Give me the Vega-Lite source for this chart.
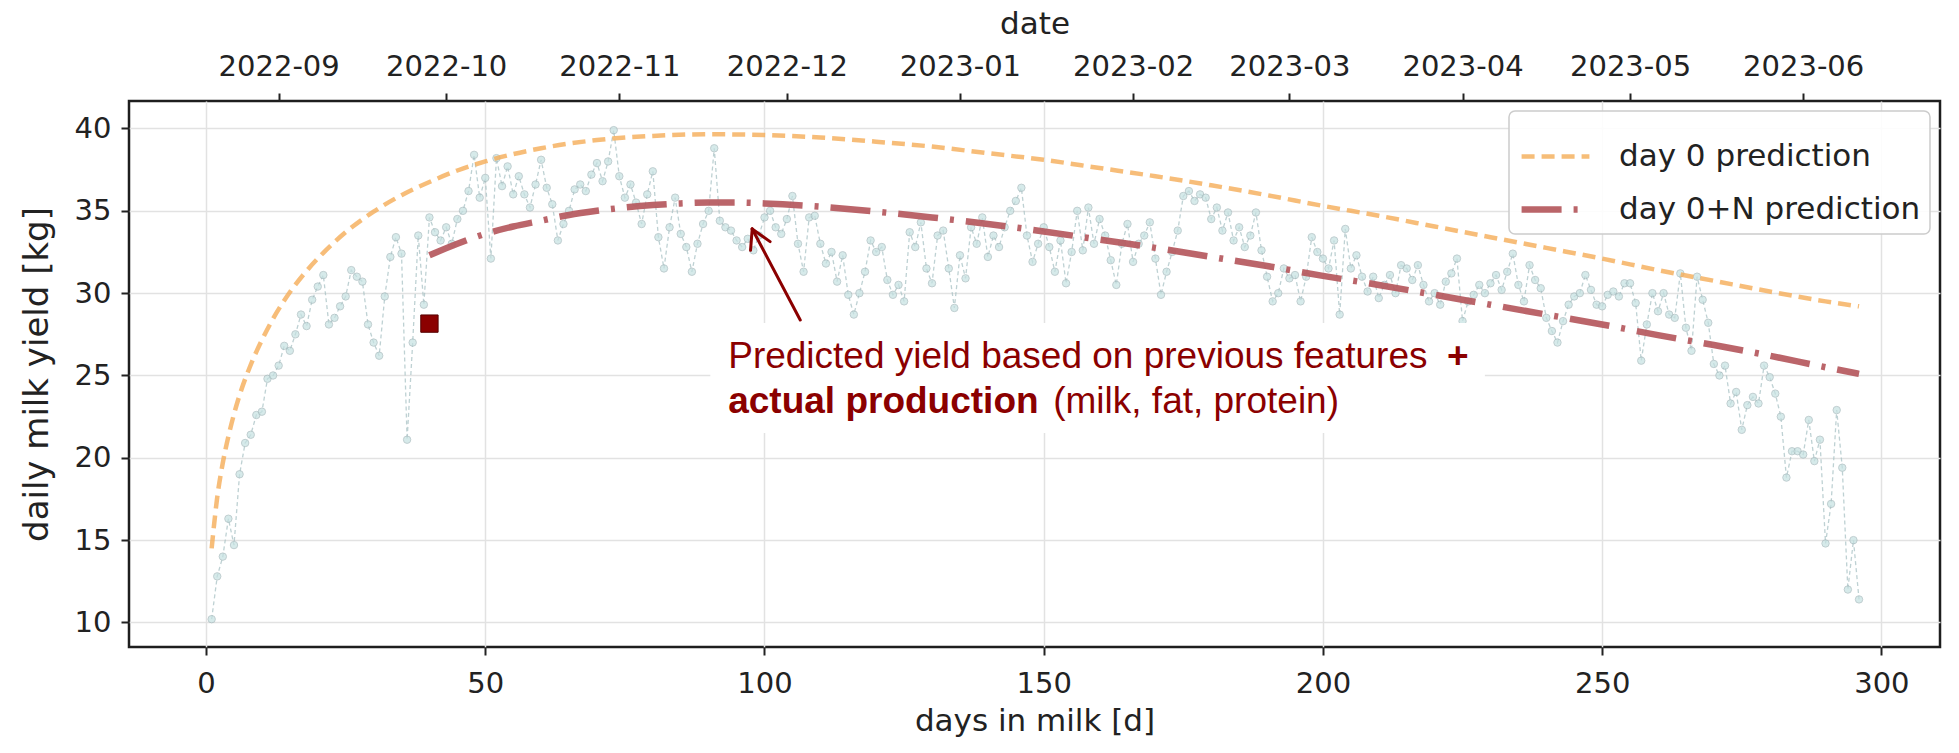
{
  "$schema": "https://vega.github.io/schema/vega-lite/v6.json",
  "width": 1811,
  "height": 546,
  "autosize": {"type": "none"},
  "padding": {"left": 129, "top": 101, "right": 19, "bottom": 106},
  "background": "white",
  "config": {
    "view": {"stroke": "#1e1e1e", "strokeWidth": 2.5},
    "axis": {
      "labelFont": "DejaVu Sans", "labelFontSize": 29, "labelColor": "#222222",
      "titleFont": "DejaVu Sans", "titleFontSize": 31, "titleFontWeight": "normal", "titleColor": "#222222",
      "tickColor": "#222222", "tickWidth": 2, "tickSize": 8, "domain": false,
      "gridColor": "#e2e2e2", "gridWidth": 1.5
    },
    "legend": {
      "orient": "top-right", "offset": 10, "fillColor": "rgba(255,255,255,0.88)", "strokeColor": "#cccccc",
      "strokeWidth": 1.5, "cornerRadius": 6, "padding": 9,
      "labelFont": "DejaVu Sans", "labelFontSize": 31, "labelColor": "#222222", "labelLimit": 500,
      "symbolType": "stroke", "symbolSize": 4600, "labelOffset": 26, "rowPadding": 0
    }
  },
  "layer": [
    {
      "encoding": {
        "x": {"field": "day", "type": "quantitative",
          "scale": {"domain": [-13.8, 310.5], "nice": false, "zero": false},
          "axis": {"orient": "bottom", "title": "days in milk [d]", "values": [0, 50, 100, 150, 200, 250, 300], "grid": true, "labelPadding": 14, "titlePadding": 8, "labelFlush": false}},
        "y": {"field": "v", "type": "quantitative",
          "scale": {"domain": [8.51, 41.67], "nice": false, "zero": false},
          "axis": {"title": "daily milk yield [kg]", "titleFontSize": 34, "values": [10, 15, 20, 25, 30, 35, 40], "grid": true, "labelPadding": 10, "titlePadding": 20}}
      },
      "layer": [
        {
          "data": {"name": "obs", "values": [
            {"day":1,"v":10.2},{"day":2,"v":12.8},{"day":3,"v":14.0},{"day":4,"v":16.3},{"day":5,"v":14.7},{"day":6,"v":19.0},{"day":7,"v":20.9},{"day":8,"v":21.4},{"day":9,"v":22.6},{"day":10,"v":22.8},
            {"day":11,"v":24.8},{"day":12,"v":25.0},{"day":13,"v":25.6},{"day":14,"v":26.8},{"day":15,"v":26.5},{"day":16,"v":27.5},{"day":17,"v":28.7},{"day":18,"v":28.0},{"day":19,"v":29.6},{"day":20,"v":30.4},
            {"day":21,"v":31.1},{"day":22,"v":28.1},{"day":23,"v":28.5},{"day":24,"v":29.2},{"day":25,"v":29.8},{"day":26,"v":31.4},{"day":27,"v":31.0},{"day":28,"v":30.7},{"day":29,"v":28.1},{"day":30,"v":27.0},
            {"day":31,"v":26.2},{"day":32,"v":29.8},{"day":33,"v":32.2},{"day":34,"v":33.4},{"day":35,"v":32.4},{"day":36,"v":21.1},{"day":37,"v":27.0},{"day":38,"v":33.5},{"day":39,"v":29.3},{"day":40,"v":34.6},
            {"day":41,"v":33.7},{"day":42,"v":33.2},{"day":43,"v":34.0},{"day":44,"v":33.0},{"day":45,"v":34.5},{"day":46,"v":35.0},{"day":47,"v":36.2},{"day":48,"v":38.4},{"day":49,"v":35.8},{"day":50,"v":37.0},
            {"day":51,"v":32.1},{"day":52,"v":38.2},{"day":53,"v":36.5},{"day":54,"v":37.7},{"day":55,"v":36.0},{"day":56,"v":37.1},{"day":57,"v":36.0},{"day":58,"v":35.2},{"day":59,"v":36.6},{"day":60,"v":38.1},
            {"day":61,"v":36.4},{"day":62,"v":35.4},{"day":63,"v":33.2},{"day":64,"v":34.2},{"day":65,"v":35.0},{"day":66,"v":36.3},{"day":67,"v":36.6},{"day":68,"v":36.2},{"day":69,"v":37.2},{"day":70,"v":37.9},
            {"day":71,"v":36.8},{"day":72,"v":38.0},{"day":73,"v":39.9},{"day":74,"v":37.1},{"day":75,"v":35.8},{"day":76,"v":36.6},{"day":77,"v":35.5},{"day":78,"v":34.2},{"day":79,"v":36.0},{"day":80,"v":37.4},
            {"day":81,"v":33.4},{"day":82,"v":31.5},{"day":83,"v":34.0},{"day":84,"v":35.8},{"day":85,"v":33.6},{"day":86,"v":32.8},{"day":87,"v":31.3},{"day":88,"v":33.0},{"day":89,"v":34.2},{"day":90,"v":35.0},
            {"day":91,"v":38.8},{"day":92,"v":34.4},{"day":93,"v":34.0},{"day":94,"v":33.8},{"day":95,"v":33.2},{"day":96,"v":32.8},{"day":97,"v":33.3},{"day":98,"v":32.6},{"day":99,"v":33.5},{"day":100,"v":34.6},
            {"day":101,"v":35.0},{"day":102,"v":34.0},{"day":103,"v":33.6},{"day":104,"v":34.5},{"day":105,"v":35.9},{"day":106,"v":33.0},{"day":107,"v":31.3},{"day":108,"v":34.6},{"day":109,"v":34.7},{"day":110,"v":33.0},
            {"day":111,"v":31.8},{"day":112,"v":32.5},{"day":113,"v":30.7},{"day":114,"v":32.3},{"day":115,"v":29.9},{"day":116,"v":28.7},{"day":117,"v":30.0},{"day":118,"v":31.3},{"day":119,"v":33.2},{"day":120,"v":32.5},
            {"day":121,"v":32.8},{"day":122,"v":30.8},{"day":123,"v":29.9},{"day":124,"v":30.5},{"day":125,"v":29.5},{"day":126,"v":33.7},{"day":127,"v":32.8},{"day":128,"v":34.3},{"day":129,"v":31.5},{"day":130,"v":30.6},
            {"day":131,"v":33.5},{"day":132,"v":33.8},{"day":133,"v":31.5},{"day":134,"v":29.1},{"day":135,"v":32.3},{"day":136,"v":30.9},{"day":137,"v":34.0},{"day":138,"v":33.0},{"day":139,"v":34.6},{"day":140,"v":32.2},
            {"day":141,"v":33.5},{"day":142,"v":32.8},{"day":143,"v":34.0},{"day":144,"v":35.0},{"day":145,"v":35.6},{"day":146,"v":36.4},{"day":147,"v":33.5},{"day":148,"v":31.9},{"day":149,"v":33.0},{"day":150,"v":34.0},
            {"day":151,"v":32.8},{"day":152,"v":31.3},{"day":153,"v":33.2},{"day":154,"v":30.6},{"day":155,"v":32.5},{"day":156,"v":35.0},{"day":157,"v":32.6},{"day":158,"v":35.2},{"day":159,"v":33.0},{"day":160,"v":34.5},
            {"day":161,"v":33.5},{"day":162,"v":32.0},{"day":163,"v":30.5},{"day":164,"v":33.0},{"day":165,"v":34.2},{"day":166,"v":31.9},{"day":167,"v":33.0},{"day":168,"v":33.5},{"day":169,"v":34.3},{"day":170,"v":32.1},
            {"day":171,"v":29.9},{"day":172,"v":31.3},{"day":173,"v":32.5},{"day":174,"v":33.8},{"day":175,"v":35.9},{"day":176,"v":36.2},{"day":177,"v":35.6},{"day":178,"v":36.0},{"day":179,"v":35.8},{"day":180,"v":34.5},
            {"day":181,"v":35.2},{"day":182,"v":33.8},{"day":183,"v":34.9},{"day":184,"v":33.2},{"day":185,"v":34.0},{"day":186,"v":32.8},{"day":187,"v":33.5},{"day":188,"v":34.9},{"day":189,"v":32.6},{"day":190,"v":31.0},
            {"day":191,"v":29.5},{"day":192,"v":30.0},{"day":193,"v":31.5},{"day":194,"v":30.9},{"day":195,"v":31.1},{"day":196,"v":29.5},{"day":197,"v":31.0},{"day":198,"v":33.4},{"day":199,"v":32.5},{"day":200,"v":32.1},
            {"day":201,"v":31.5},{"day":202,"v":33.2},{"day":203,"v":28.7},{"day":204,"v":33.9},{"day":205,"v":31.5},{"day":206,"v":32.3},{"day":207,"v":31.0},{"day":208,"v":30.1},{"day":209,"v":31.0},{"day":210,"v":29.7},
            {"day":211,"v":30.5},{"day":212,"v":31.1},{"day":213,"v":30.0},{"day":214,"v":31.7},{"day":215,"v":31.5},{"day":216,"v":30.8},{"day":217,"v":31.7},{"day":218,"v":30.5},{"day":219,"v":29.5},{"day":220,"v":30.0},
            {"day":221,"v":29.3},{"day":222,"v":30.7},{"day":223,"v":31.2},{"day":224,"v":32.1},{"day":225,"v":28.3},{"day":226,"v":29.5},{"day":227,"v":29.9},{"day":228,"v":30.5},{"day":229,"v":30.0},{"day":230,"v":30.6},
            {"day":231,"v":31.1},{"day":232,"v":30.2},{"day":233,"v":31.3},{"day":234,"v":32.4},{"day":235,"v":30.5},{"day":236,"v":29.5},{"day":237,"v":31.7},{"day":238,"v":30.8},{"day":239,"v":30.3},{"day":240,"v":28.5},
            {"day":241,"v":27.7},{"day":242,"v":27.0},{"day":243,"v":28.3},{"day":244,"v":29.3},{"day":245,"v":29.8},{"day":246,"v":30.0},{"day":247,"v":31.1},{"day":248,"v":30.2},{"day":249,"v":29.3},{"day":250,"v":29.2},
            {"day":251,"v":29.9},{"day":252,"v":30.1},{"day":253,"v":29.8},{"day":254,"v":30.6},{"day":255,"v":30.6},{"day":256,"v":29.4},{"day":257,"v":25.9},{"day":258,"v":28.1},{"day":259,"v":30.0},{"day":260,"v":28.9},
            {"day":261,"v":30.0},{"day":262,"v":28.7},{"day":263,"v":28.5},{"day":264,"v":31.2},{"day":265,"v":27.9},{"day":266,"v":26.5},{"day":267,"v":31.0},{"day":268,"v":29.6},{"day":269,"v":28.2},{"day":270,"v":25.7},
            {"day":271,"v":25.0},{"day":272,"v":25.6},{"day":273,"v":23.3},{"day":274,"v":24.0},{"day":275,"v":21.7},{"day":276,"v":23.2},{"day":277,"v":23.7},{"day":278,"v":23.3},{"day":279,"v":25.6},{"day":280,"v":24.9},
            {"day":281,"v":23.9},{"day":282,"v":22.5},{"day":283,"v":18.8},{"day":284,"v":20.4},{"day":285,"v":20.4},{"day":286,"v":20.2},{"day":287,"v":22.3},{"day":288,"v":19.8},{"day":289,"v":21.1},{"day":290,"v":14.8},
            {"day":291,"v":17.2},{"day":292,"v":22.9},{"day":293,"v":19.4},{"day":294,"v":12.0},{"day":295,"v":15.0},{"day":296,"v":11.4}
          ]},
          "layer": [
            {"mark": {"type": "line", "strokeDash": [4, 3], "strokeWidth": 1.3, "color": "#a8c2c4", "opacity": 0.75}},
            {"mark": {"type": "point", "shape": "circle", "filled": true, "size": 55, "fill": "#c6e2e2", "stroke": "#a6babd", "strokeWidth": 1, "opacity": 0.7}}
          ]
        },
        {
          "data": {"values": [
            {"day":1,"v":14.5,"s":"day 0 prediction"},{"day":2,"v":17.6,"s":"day 0 prediction"},{"day":3,"v":19.7,"s":"day 0 prediction"},{"day":4,"v":21.3,"s":"day 0 prediction"},{"day":5,"v":22.65,"s":"day 0 prediction"},
            {"day":6,"v":23.8,"s":"day 0 prediction"},{"day":8,"v":25.65,"s":"day 0 prediction"},{"day":10,"v":27.15,"s":"day 0 prediction"},{"day":12,"v":28.45,"s":"day 0 prediction"},{"day":15,"v":30.05,"s":"day 0 prediction"},
            {"day":18,"v":31.35,"s":"day 0 prediction"},{"day":21,"v":32.45,"s":"day 0 prediction"},{"day":25,"v":33.7,"s":"day 0 prediction"},{"day":30,"v":34.95,"s":"day 0 prediction"},{"day":35,"v":35.95,"s":"day 0 prediction"},
            {"day":40,"v":36.75,"s":"day 0 prediction"},{"day":45,"v":37.45,"s":"day 0 prediction"},{"day":50,"v":38.0,"s":"day 0 prediction"},{"day":60,"v":38.8,"s":"day 0 prediction"},{"day":70,"v":39.3,"s":"day 0 prediction"},
            {"day":80,"v":39.55,"s":"day 0 prediction"},{"day":90,"v":39.65,"s":"day 0 prediction"},{"day":100,"v":39.6,"s":"day 0 prediction"},{"day":110,"v":39.45,"s":"day 0 prediction"},{"day":120,"v":39.2,"s":"day 0 prediction"},
            {"day":130,"v":38.9,"s":"day 0 prediction"},{"day":140,"v":38.5,"s":"day 0 prediction"},{"day":150,"v":38.1,"s":"day 0 prediction"},{"day":160,"v":37.6,"s":"day 0 prediction"},{"day":170,"v":37.1,"s":"day 0 prediction"},
            {"day":180,"v":36.55,"s":"day 0 prediction"},{"day":190,"v":35.95,"s":"day 0 prediction"},{"day":200,"v":35.3,"s":"day 0 prediction"},{"day":210,"v":34.7,"s":"day 0 prediction"},{"day":220,"v":34.05,"s":"day 0 prediction"},
            {"day":230,"v":33.4,"s":"day 0 prediction"},{"day":240,"v":32.75,"s":"day 0 prediction"},{"day":250,"v":32.1,"s":"day 0 prediction"},{"day":260,"v":31.4,"s":"day 0 prediction"},{"day":270,"v":30.75,"s":"day 0 prediction"},
            {"day":280,"v":30.1,"s":"day 0 prediction"},{"day":290,"v":29.5,"s":"day 0 prediction"},{"day":296,"v":29.2,"s":"day 0 prediction"},
            {"day":40,"v":32.3,"s":"day 0+N prediction"},{"day":45,"v":33.0,"s":"day 0+N prediction"},{"day":50,"v":33.6,"s":"day 0+N prediction"},{"day":55,"v":34.05,"s":"day 0+N prediction"},{"day":60,"v":34.4,"s":"day 0+N prediction"},
            {"day":65,"v":34.75,"s":"day 0+N prediction"},{"day":70,"v":35.0,"s":"day 0+N prediction"},{"day":75,"v":35.2,"s":"day 0+N prediction"},{"day":80,"v":35.35,"s":"day 0+N prediction"},{"day":85,"v":35.45,"s":"day 0+N prediction"},
            {"day":90,"v":35.5,"s":"day 0+N prediction"},{"day":95,"v":35.5,"s":"day 0+N prediction"},{"day":100,"v":35.45,"s":"day 0+N prediction"},{"day":110,"v":35.25,"s":"day 0+N prediction"},{"day":120,"v":34.95,"s":"day 0+N prediction"},
            {"day":130,"v":34.6,"s":"day 0+N prediction"},{"day":140,"v":34.2,"s":"day 0+N prediction"},{"day":150,"v":33.75,"s":"day 0+N prediction"},{"day":160,"v":33.25,"s":"day 0+N prediction"},{"day":170,"v":32.75,"s":"day 0+N prediction"},
            {"day":180,"v":32.2,"s":"day 0+N prediction"},{"day":190,"v":31.65,"s":"day 0+N prediction"},{"day":200,"v":31.05,"s":"day 0+N prediction"},{"day":210,"v":30.5,"s":"day 0+N prediction"},{"day":220,"v":29.9,"s":"day 0+N prediction"},
            {"day":230,"v":29.3,"s":"day 0+N prediction"},{"day":240,"v":28.7,"s":"day 0+N prediction"},{"day":250,"v":28.1,"s":"day 0+N prediction"},{"day":260,"v":27.45,"s":"day 0+N prediction"},{"day":270,"v":26.85,"s":"day 0+N prediction"},
            {"day":280,"v":26.2,"s":"day 0+N prediction"},{"day":290,"v":25.5,"s":"day 0+N prediction"},{"day":296,"v":25.1,"s":"day 0+N prediction"}
          ]},
          "mark": {"type": "line", "interpolate": "monotone"},
          "encoding": {
            "color": {"field": "s", "type": "ordinal", "scale": {"domain": ["day 0 prediction", "day 0+N prediction"], "range": ["#f5ad57", "#b5585d"]}, "legend": {"title": null}},
            "strokeDash": {"field": "s", "type": "ordinal", "scale": {"domain": ["day 0 prediction", "day 0+N prediction"], "range": [[13, 7], [40, 12, 4, 12]]}, "legend": {"title": null}},
            "strokeWidth": {"field": "s", "type": "ordinal", "scale": {"type": "point", "padding": 0, "domain": ["day 0 prediction", "day 0+N prediction"], "range": [4.5, 6.5]}, "legend": {"title": null}},
            "opacity": {"field": "s", "type": "ordinal", "scale": {"type": "point", "padding": 0, "domain": ["day 0 prediction", "day 0+N prediction"], "range": [0.8, 0.92]}, "legend": {"title": null}}
          }
        },
        {
          "data": {"values": [{"day": 40, "v": 28.15}]},
          "mark": {"type": "point", "shape": "square", "filled": true, "size": 300, "fill": "#8b0000", "stroke": "#550000", "strokeWidth": 1, "opacity": 1}
        },
        {
          "data": {"values": [{"day": 90.3, "day2": 229.0, "v": 21.51, "v2": 28.19}]},
          "mark": {"type": "rect", "fill": "white", "opacity": 1},
          "encoding": {"x2": {"field": "day2"}, "y2": {"field": "v2"}}
        },
        {
          "data": {"values": [
            {"day": 106.4, "v": 28.37, "day2": 97.8, "v2": 33.9},
            {"day": 97.8, "v": 33.9, "day2": 97.5, "v2": 32.6},
            {"day": 97.8, "v": 33.9, "day2": 101.0, "v2": 33.13}
          ]},
          "mark": {"type": "rule", "color": "#8b0000", "strokeWidth": 3, "strokeCap": "round"},
          "encoding": {"x2": {"field": "day2"}, "y2": {"field": "v2"}}
        },
        {
          "data": {"values": [
            {"day": 93.5, "v": 25.46, "t": "Predicted yield based on previous features"},
            {"day": 151.7, "v": 22.73, "t": "(milk, fat, protein)"}
          ]},
          "mark": {"type": "text", "font": "Liberation Sans", "fontSize": 37, "fill": "#8b0000", "align": "left", "baseline": "alphabetic"},
          "encoding": {"text": {"field": "t"}}
        },
        {
          "data": {"values": [
            {"day": 222.2, "v": 25.46, "t": "+"},
            {"day": 93.5, "v": 22.73, "t": "actual production"}
          ]},
          "mark": {"type": "text", "font": "Liberation Sans", "fontSize": 37, "fontWeight": "bold", "fill": "#8b0000", "align": "left", "baseline": "alphabetic"},
          "encoding": {"text": {"field": "t"}}
        }
      ]
    },
    {
      "data": {"values": [{"date": "2022-08-19"}]},
      "mark": {"type": "rule", "opacity": 0},
      "encoding": {
        "x": {"field": "date", "type": "temporal",
          "scale": {"type": "utc", "nice": false,
            "domain": [{"utc": true, "year": 2022, "month": 8, "date": 5, "hours": 4, "minutes": 48},
                       {"utc": true, "year": 2023, "month": 6, "date": 25, "hours": 12}]},
          "axis": {"orient": "top", "title": "date", "format": "%Y-%m", "grid": false,
            "tickCount": {"interval": "month", "step": 1}, "labelFlush": false, "labelOverlap": false,
            "labelPadding": 12, "titlePadding": 12}}
      }
    }
  ],
  "resolve": {"scale": {"x": "independent"}, "axis": {"x": "independent"}}
}
